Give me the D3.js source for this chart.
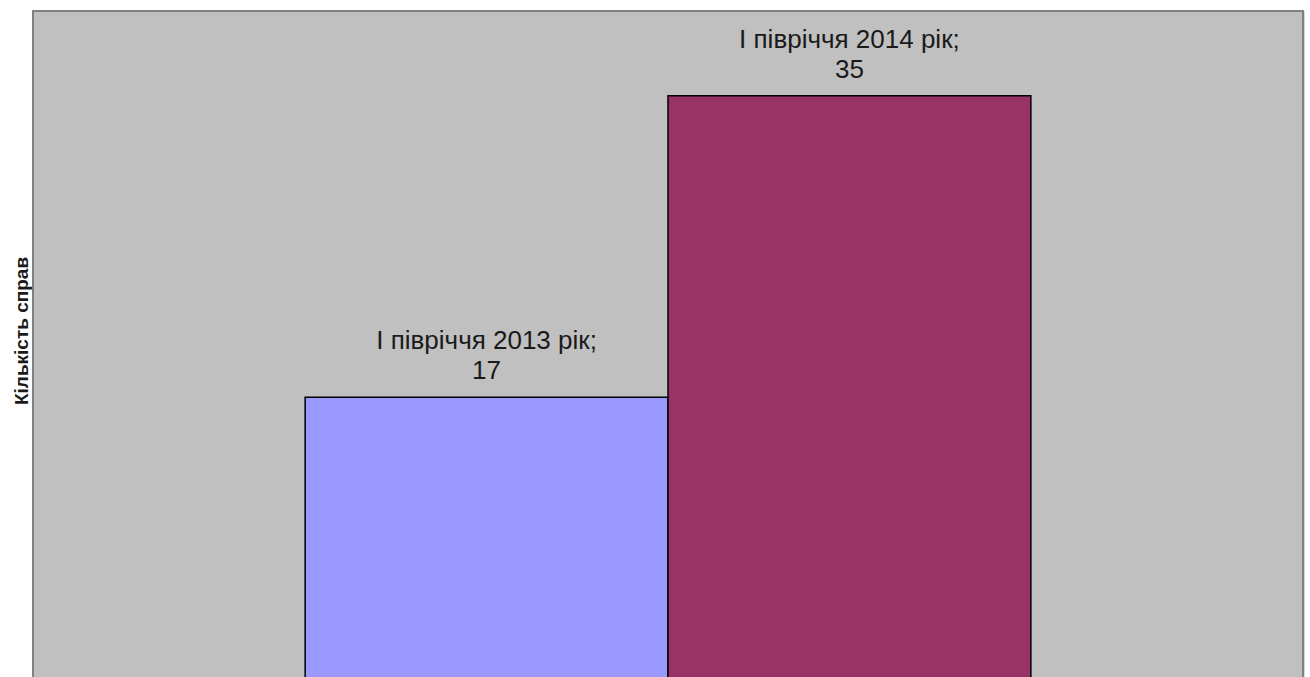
<!DOCTYPE html>
<html><head><meta charset="utf-8">
<script src="https://cdn.jsdelivr.net/npm/d3@7"></script>
<style>html,body{margin:0;padding:0;background:#fff;}svg{display:block;}</style>
</head><body>
<svg id="chart" width="1310" height="677"></svg>
<script>
const seriesNames = ["І півріччя 2013 рік", "І півріччя 2014 рік"];
const seriesValues = [17, 35];
const seriesColors = ["#9999FF", "#993366"];
const yTitle = "Кількість справ";
const yDomain = [0, 40];

const svg = d3.select("#chart");
const plot = {left: 33, right: 1303, top: 11, bottom: 700};

const x = d3.scaleBand().domain(seriesNames).range([plot.left, plot.right]).paddingInner(0).paddingOuter(0.75);
const y = d3.scaleLinear().domain(yDomain).range([682, 12]);

// plot area
svg.append("rect").attr("x", plot.left + 1).attr("y", plot.top + 1)
  .attr("width", plot.right - plot.left).attr("height", plot.bottom - plot.top)
  .attr("fill", "none").attr("stroke", "#d8d8d8").attr("stroke-width", 2);
svg.append("rect").attr("x", plot.left).attr("y", plot.top)
  .attr("width", plot.right - plot.left).attr("height", plot.bottom - plot.top)
  .attr("fill", "#C0C0C0").attr("stroke", "#808080").attr("stroke-width", 2);

const data = seriesNames.map((n, i) => ({name: n, value: seriesValues[i], color: seriesColors[i]}));

svg.selectAll("rect.bar").data(data).join("rect").attr("class", "bar")
  .attr("x", d => x(d.name)).attr("y", d => y(d.value))
  .attr("width", x.bandwidth()).attr("height", d => y(0) - y(d.value) + 20)
  .attr("fill", d => d.color).attr("stroke", "#000").attr("stroke-width", 1.5);

const lab = svg.selectAll("g.lab").data(data).join("g").attr("class", "lab")
  .attr("font-family", "Liberation Sans, Arial, sans-serif").attr("font-size", 26).attr("fill", "#1a1a1a")
  .attr("text-anchor", "middle");
lab.append("text").attr("x", d => x(d.name) + x.bandwidth() / 2).attr("y", d => y(d.value) - 48).text(d => d.name + ";");
lab.append("text").attr("x", d => x(d.name) + x.bandwidth() / 2).attr("y", d => y(d.value) - 18).text(d => d.value);

svg.append("text").attr("transform", "translate(28,331) rotate(-90)")
  .attr("text-anchor", "middle").attr("font-family", "Liberation Sans, Arial, sans-serif")
  .attr("font-weight", "bold").attr("font-size", 19).attr("fill", "#1a1a1a").text(yTitle);
</script>
</body></html>
